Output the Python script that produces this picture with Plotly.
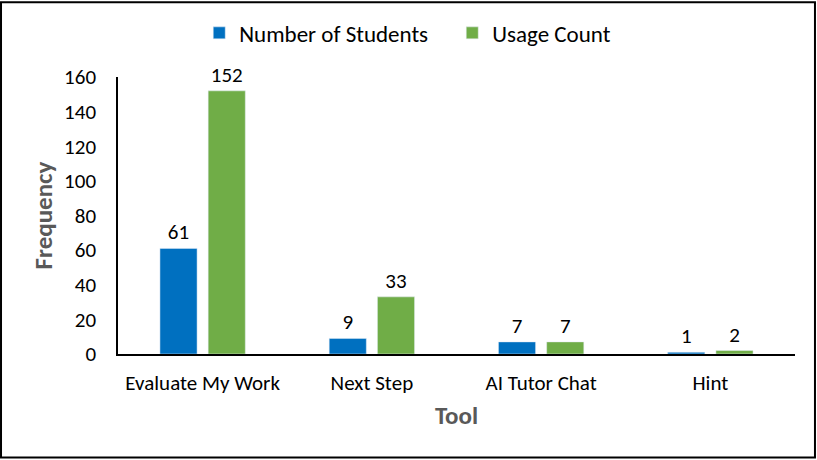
import plotly.graph_objects as go

# data
tools = ["Evaluate My Work", "Next Step", "AI Tutor Chat", "Hint"]
students = [61, 9, 7, 1]
usage = [152, 33, 7, 2]

FONT = "Calibri, Carlito, Lato, sans-serif"

fig = go.Figure()
fig.add_bar(x=tools, y=students, name="Number of Students",
            marker_color="#0070C0", text=students, textposition="outside",
            cliponaxis=False, textfont=dict(size=21, color="black"))
fig.add_bar(x=tools, y=usage, name="Usage Count",
            marker_color="#70AD47", text=usage, textposition="outside",
            cliponaxis=False, textfont=dict(size=21, color="black"))

fig.update_layout(
    width=817, height=460,
    margin=dict(l=118, r=22, t=76, b=106),
    paper_bgcolor="white", plot_bgcolor="white",
    font=dict(family=FONT, size=20, color="black"),
    barmode="group", bargap=0.43, bargroupgap=0.23,
    legend=dict(orientation="h", x=0.12, xanchor="left", y=1.155, yanchor="middle",
                font=dict(size=23), itemwidth=30, entrywidth=208, traceorder="normal"),
    shapes=[dict(type="rect", xref="paper", yref="paper",
                 x0=-0.1728, x1=1.0295, y0=-0.374, y1=1.2698,
                 line=dict(color="black", width=2))],
)
fig.update_xaxes(showline=True, linecolor="black", linewidth=2, ticks="",
                 ticklabelstandoff=9, tickfont=dict(size=21),
                 title=dict(text="<b>Tool</b>", font=dict(size=25, color="#595959"), standoff=11))
fig.update_yaxes(range=[0, 160], dtick=20, showgrid=False, zeroline=False,
                 showline=True, linecolor="black", linewidth=1.5, ticks="",
                 ticklabelstandoff=16, tickfont=dict(size=21),
                 title=dict(text="<b>Frequency</b>", font=dict(size=25, color="#595959"), standoff=4))

# the page's default body margin would push the figure 8px in
fig.write_html("out.html", config={"displayModeBar": False},
               post_script="document.body.style.margin='0';")
